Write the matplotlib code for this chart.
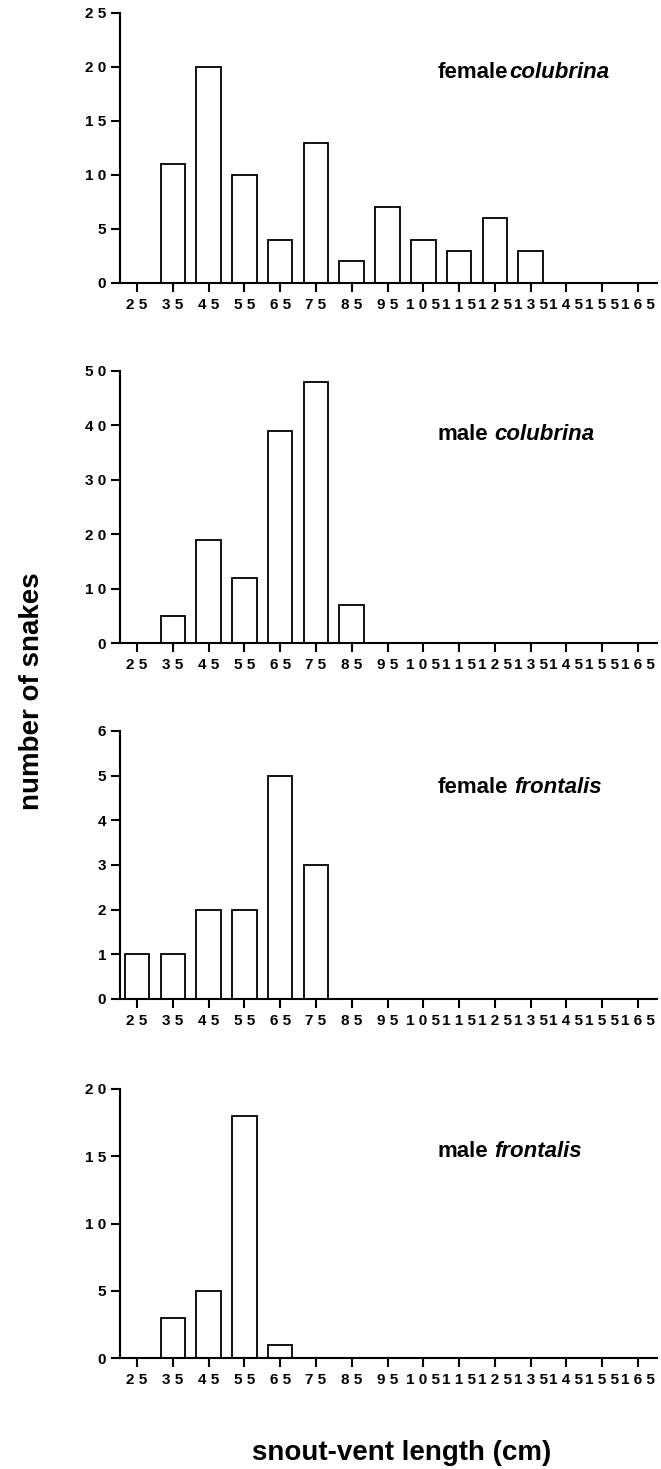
import matplotlib.pyplot as plt

plt.rcParams['font.family'] = ['Liberation Sans', 'DejaVu Sans']
plt.rcParams['font.weight'] = 'bold'

# ---------------------------------------------------------
# Data: snout-vent length classes (cm) and counts per group
# ---------------------------------------------------------
svl_classes = [25, 35, 45, 55, 65, 75, 85, 95, 105, 115, 125, 135, 145, 155, 165]

female_colubrina = [0, 11, 20, 10, 4, 13, 2, 7, 4, 3, 6, 3, 0, 0, 0]
male_colubrina = [0, 5, 19, 12, 39, 48, 7, 0, 0, 0, 0, 0, 0, 0, 0]
female_frontalis = [1, 1, 2, 2, 5, 3, 0, 0, 0, 0, 0, 0, 0, 0, 0]
male_frontalis = [0, 3, 5, 18, 1, 0, 0, 0, 0, 0, 0, 0, 0, 0, 0]

panel_sex = ['female', 'male', 'female', 'male']
panel_species = ['colubrina', 'colubrina', 'frontalis', 'frontalis']
panel_counts = [female_colubrina, male_colubrina, female_frontalis, male_frontalis]
panel_yticks = [[0, 5, 10, 15, 20, 25],
                [0, 10, 20, 30, 40, 50],
                [0, 1, 2, 3, 4, 5, 6],
                [0, 5, 10, 15, 20]]


def spaced(v):
    """Tick labels in the original are letter-spaced ('2 5')."""
    return ' '.join(str(v))


W, H = 661, 1469
fig = plt.figure(figsize=(W / 100, H / 100), dpi=100)

# axes boxes in pixels: (top, zero-line)
panel_px = [(13, 283), (371, 643), (731, 999), (1089, 1358)]
left_px, right_px = 120, 657
label_y = [0.759, 0.746, 0.769, 0.747]
name_gap = [1, 4, 4, 4]

for i, counts in enumerate(panel_counts):
    top, bot = panel_px[i]
    ax = fig.add_axes([left_px / W, 1 - bot / H,
                       (right_px - left_px) / W, (bot - top) / H])
    ax.bar(svl_classes, counts, width=6.85, color='white',
           edgecolor='black', linewidth=1.3, zorder=2)

    ax.set_xlim(20.25, 170.3)
    ax.set_ylim(0, panel_yticks[i][-1])
    ax.set_xticks(svl_classes)
    ax.set_xticklabels([spaced(v) for v in svl_classes])
    ax.set_yticks(panel_yticks[i])
    ax.set_yticklabels([spaced(v) for v in panel_yticks[i]])

    for side in ['top', 'right']:
        ax.spines[side].set_visible(False)
    for side in ['left', 'bottom']:
        ax.spines[side].set_linewidth(1.5)
    ax.tick_params(axis='both', which='major', length=6.5, width=1.5,
                   labelsize=11, direction='out')
    ax.tick_params(axis='x', pad=4)
    ax.tick_params(axis='y', pad=3.5)

    t = ax.text(0.592, label_y[i], panel_sex[i], transform=ax.transAxes,
                fontsize=16, fontweight='bold', va='baseline', ha='left')
    ax.annotate(panel_species[i], xy=(1, 0), xycoords=t,
                xytext=(name_gap[i], 0), textcoords='offset points',
                fontsize=16, fontweight='bold', fontstyle='italic',
                va='bottom', ha='left')

fig.text(32 / W, 1 - 691 / H, 'number of snakes', rotation=90,
         fontsize=20, fontweight='bold', ha='center', va='center')
fig.text(402 / W, 1 - 1453 / H, 'snout-vent length (cm)',
         fontsize=20, fontweight='bold', ha='center', va='center')

fig.savefig('out.png', dpi=100)
